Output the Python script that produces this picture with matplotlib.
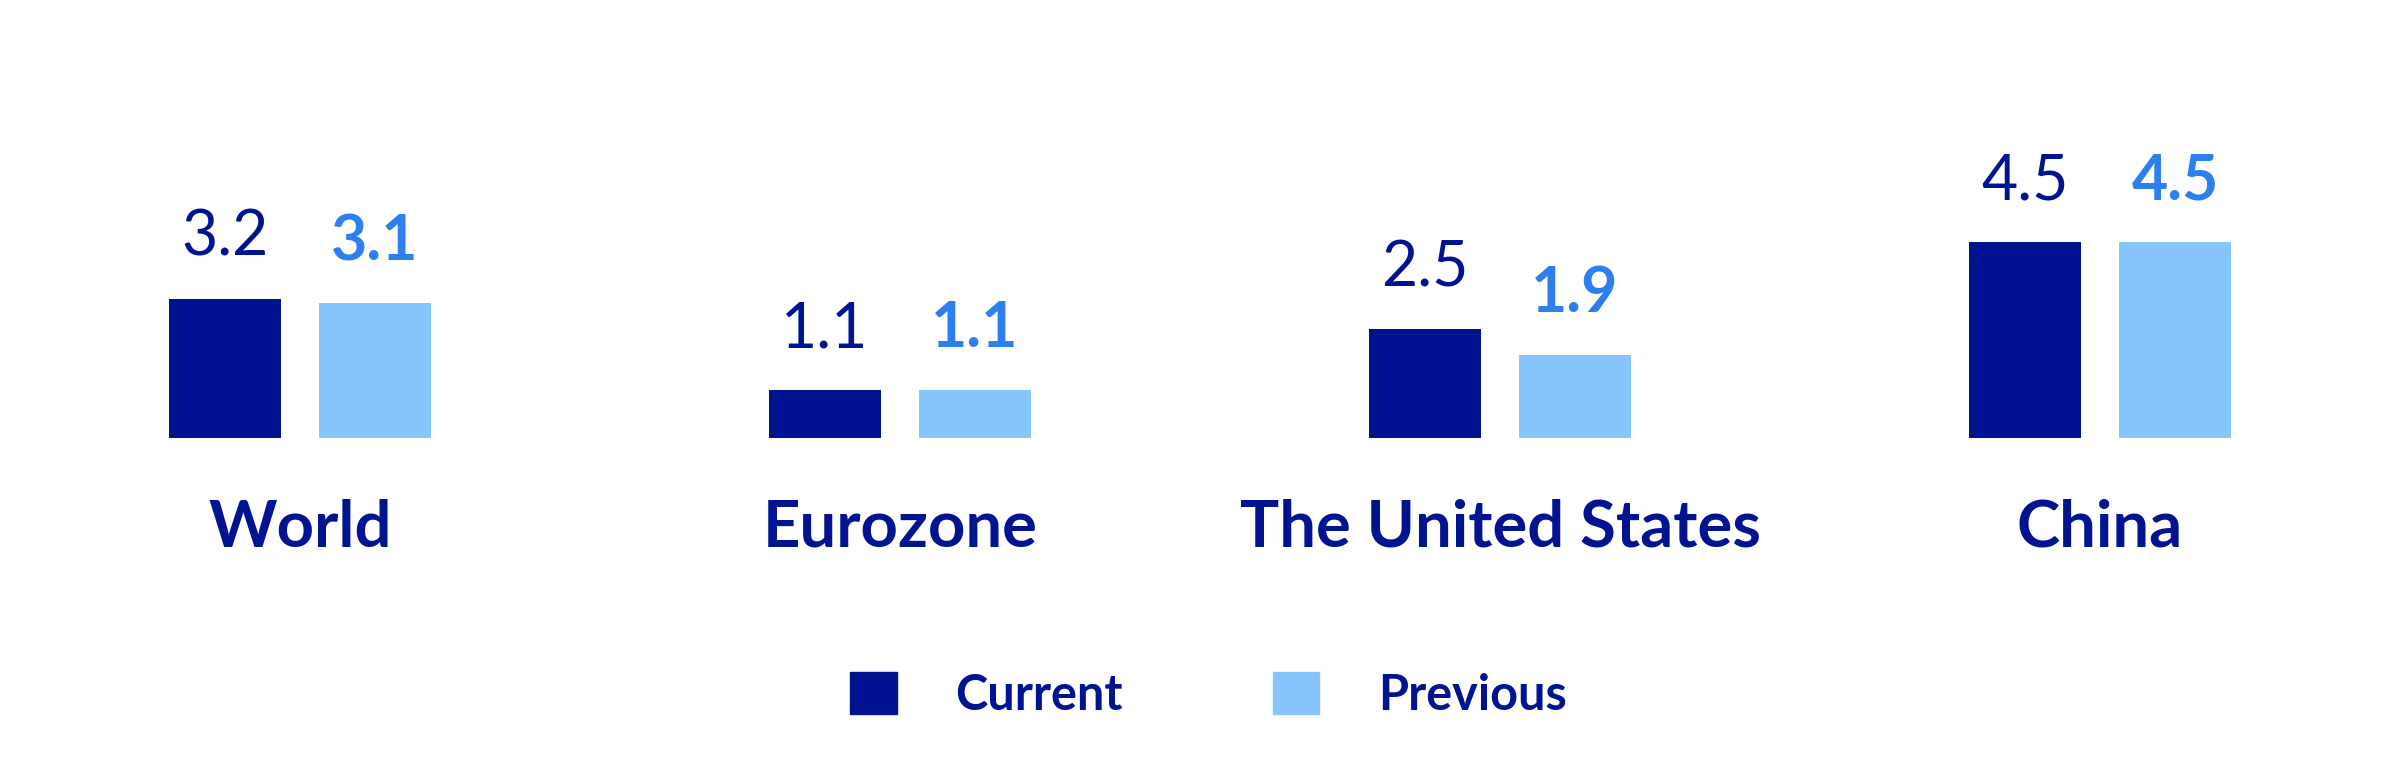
import matplotlib
matplotlib.use('Agg')
import matplotlib.pyplot as plt
from matplotlib.patches import Patch
import numpy as np

# chart data
regions = ['World', 'Eurozone', 'The United States', 'China']
current = [3.2, 1.1, 2.5, 4.5]
previous = [3.1, 1.1, 1.9, 4.5]
series_names = ['Current', 'Previous']

navy = '#001391'
light = '#86C5FD'
light_text = '#2D7FF0'

plt.rcParams['font.family'] = ['Lato', 'DejaVu Sans']

fig = plt.figure(figsize=(24, 7.8), dpi=100)
ax = fig.add_axes([0, 0.4385, 1, 0.5615])

x = np.arange(len(regions))
w = 0.188
off = 0.125
b1 = ax.bar(x - off, current, w, color=navy)
b2 = ax.bar(x + off, previous, w, color=light)

ax.set_xlim(-0.5, len(regions) - 0.5)
ax.set_ylim(0, 438 / 43.5)
ax.axis('off')

#value labels above bars
for rect, v in zip(b1, current):
    ax.annotate(f'{v}', (rect.get_x() + rect.get_width() / 2, v),
                xytext=(0, 61), textcoords='offset pixels',
                ha='center', va='center', fontsize=45, weight='normal', color=navy)
for rect, v in zip(b2, previous):
    ax.annotate(f'{v}', (rect.get_x() + rect.get_width() / 2, v),
                xytext=(0, 61), textcoords='offset pixels',
                ha='center', va='center', fontsize=45, weight='bold', color=light_text)

#category labels under the groups
for i, name in enumerate(regions):
    fig.text((i + 0.5) / len(regions), 0.323, name, ha='center', va='center',
             fontsize=47, weight='bold', color=navy)

handles = [Patch(color=navy), Patch(color=light)]
leg = fig.legend(handles, series_names, loc='center', bbox_to_anchor=(0.5035, 0.109),
                 ncol=2, frameon=False, fontsize=35, handlelength=0.95, handleheight=0.95,
                 handletextpad=1.2, columnspacing=3.1)
for t in leg.get_texts():
    t.set_color(navy)
    t.set_fontweight('bold')

fig.savefig('out.png', dpi=100, facecolor='white')
